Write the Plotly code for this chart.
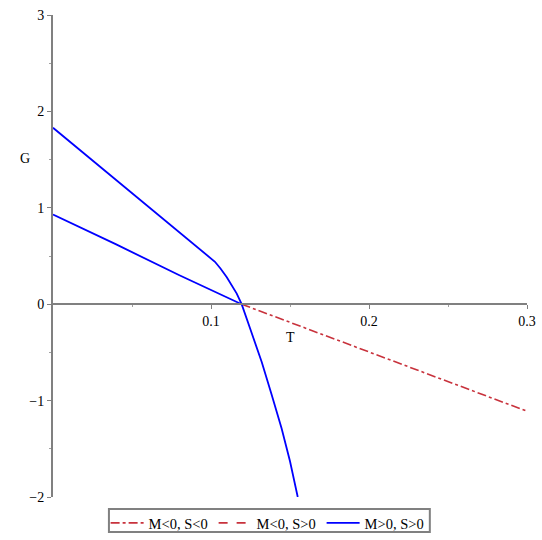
import plotly.graph_objects as go

# curve data
t_neg_neg = [0.1194, 0.2, 0.3]
g_neg_neg = [0.0, -0.495, -1.11]

t_pos_lower = [0.0, 0.04, 0.08, 0.1194]
g_pos_lower = [0.93, 0.62, 0.30, 0.0]

t_pos_upper = [0.0, 0.05, 0.0867, 0.1025, 0.106, 0.110, 0.1163, 0.1194,
               0.1247, 0.1321, 0.1384, 0.1447, 0.150, 0.1549]
g_pos_upper = [1.83, 1.15, 0.646, 0.44, 0.37, 0.28, 0.11, 0.0,
               -0.25, -0.60, -0.94, -1.29, -1.63, -2.0]

x_ticks = [0.1, 0.2, 0.3]
x_labels = ["0.1", "0.2", "0.3"]
x_minor = [0.05, 0.15, 0.25]
y_ticks = [-2, -1, 0, 1, 2, 3]
y_labels = ["\u22122", "\u22121", "0", "1", "2", "3"]
y_minor = [-1.5, -0.5, 0.5, 1.5, 2.5]

red = "#c8323c"
blue = "#0000ff"
font = "Liberation Serif, Times New Roman, serif"

fig = go.Figure()
fig.add_trace(go.Scatter(x=t_neg_neg, y=g_neg_neg, mode="lines",
                         line=dict(color=red, width=1.6, dash="dashdot"),
                         name="M<0, S<0"))
fig.add_trace(go.Scatter(x=[None], y=[None], mode="lines",
                         line=dict(color=red, width=1.6, dash="dash"),
                         name="M<0, S>0"))
fig.add_trace(go.Scatter(x=t_pos_upper, y=g_pos_upper, mode="lines",
                         line=dict(color=blue, width=1.8),
                         name="M>0, S>0"))
fig.add_trace(go.Scatter(x=t_pos_lower, y=g_pos_lower, mode="lines",
                         line=dict(color=blue, width=1.8),
                         name="M>0, S>0", showlegend=False))

fig.update_layout(
    width=542, height=540,
    margin=dict(l=53, r=15, t=15, b=43, autoexpand=False),
    plot_bgcolor="white", paper_bgcolor="white",
    font=dict(family=font, size=14, color="black"),
    showlegend=True,
    legend=dict(orientation="h", x=0.111, xanchor="left", y=-0.0207, yanchor="top",
                borderwidth=0, bgcolor="rgba(0,0,0,0)", itemwidth=33,
                entrywidth=60,
                font=dict(family=font, size=14.5, color="black"),
                tracegroupgap=0),
    xaxis=dict(range=[0, 0.3], anchor="free", position=0.4,
               showline=True, linecolor="#808080", linewidth=2,
               showgrid=False, zeroline=False, automargin=False,
               ticklabeloverflow="allow",
               tickvals=x_ticks, ticktext=x_labels,
               ticks="outside", ticklen=4, tickcolor="#808080",
               minor=dict(tickvals=x_minor, ticks="outside", ticklen=2, tickcolor="#a0a0a0")),
    yaxis=dict(range=[-2, 3], automargin=False,
               showline=True, linecolor="#808080", linewidth=2,
               showgrid=False, zeroline=False,
               ticklabeloverflow="allow",
               tickvals=y_ticks, ticktext=y_labels,
               ticks="outside", ticklen=4, tickcolor="#808080",
               minor=dict(tickvals=y_minor, ticks="outside", ticklen=2, tickcolor="#a0a0a0")),
    shapes=[
        dict(type="rect", xref="paper", yref="paper",
             x0=0.118, x1=0.795, y0=-0.0726, y1=-0.0249,
             line=dict(color="#808080", width=2), fillcolor="rgba(0,0,0,0)"),
    ],
    annotations=[
        dict(text="G", xref="paper", yref="y", x=-0.074, y=1.51,
             showarrow=False, font=dict(family=font, size=14)),
        dict(text="T", xref="x", yref="y", x=0.15, y=-0.35,
             showarrow=False, font=dict(family=font, size=14)),
    ],
)

# drop the default body margin so the figure fills the window exactly
fig.write_html("out.html", config={"displayModeBar": False},
               post_script="document.body.style.margin='0';")
